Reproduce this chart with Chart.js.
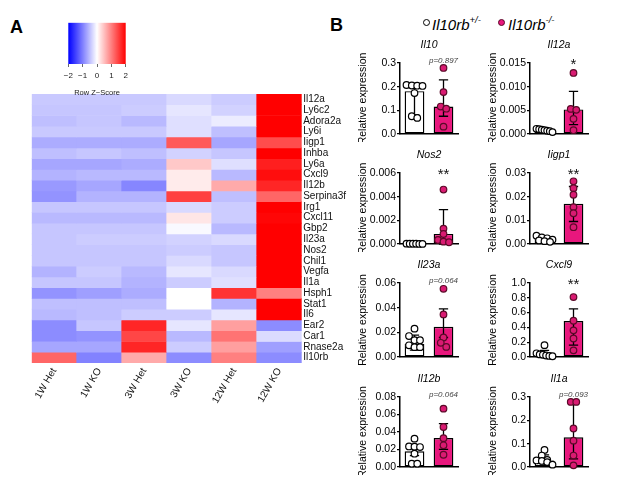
<!DOCTYPE html>
<html><head><meta charset="utf-8">
<script src="https://cdn.jsdelivr.net/npm/chart.js@4/dist/chart.umd.min.js"></script>
<style>
html,body{margin:0;padding:0;background:#fff;}
body{width:617px;height:485px;overflow:hidden;position:relative;font-family:"Liberation Sans",Arial,Helvetica,sans-serif;color:#000;}
canvas{position:absolute;}
.panel{position:absolute;font-weight:bold;font-size:18px;line-height:1;}
.leg{position:absolute;font-style:italic;font-size:15px;line-height:1;white-space:nowrap;}
.leg sup{font-size:9.5px;position:relative;top:-1px;}
.dot{position:absolute;width:5px;height:5px;border-radius:50%;border:1.7px solid #000;}
</style></head>
<body>
<div class="panel" style="left:10px;top:18px">A</div>
<div class="panel" style="left:330px;top:16px">B</div>
<div class="dot" style="left:423px;top:18.5px;background:#fff"></div>
<div class="leg" style="left:432px;top:16px">Il10rb<sup>+/-</sup></div>
<div class="dot" style="left:498px;top:18.5px;background:#e8177d;border-color:#5a0a28"></div>
<div class="leg" style="left:508px;top:16px">Il10rb<sup>-/-</sup></div>

<canvas id="heat" width="370" height="330" style="left:0px;top:80px"></canvas>
<canvas id="cbar" width="90" height="80" style="left:50px;top:17px"></canvas>
<canvas id="b0" width="116" height="103"></canvas>
<canvas id="b1" width="116" height="103"></canvas>
<canvas id="b2" width="116" height="103"></canvas>
<canvas id="b3" width="116" height="103"></canvas>
<canvas id="b4" width="116" height="106"></canvas>
<canvas id="b5" width="116" height="106"></canvas>
<canvas id="b6" width="116" height="102"></canvas>
<canvas id="b7" width="116" height="102"></canvas>

<script>
// ---------------- Panel A data (row Z-scores) ----------------
const conditions = ['1W Het','1W KO','3W Het','3W KO','12W Het','12W KO'];
const genes = ['Il12a','Ly6c2','Adora2a','Ly6i','Iigp1','Inhba','Ly6a','Cxcl9','Il12b','Serpina3f','Irg1','Cxcl11','Gbp2','Il23a','Nos2','Chil1','Vegfa','Il1a','Hsph1','Stat1','Il6','Ear2','Car1','Rnase2a','Il10rb'];
const z1WHet  = [-0.42,-0.45,-0.50,-0.42,-0.65,-0.50,-0.70,-0.60,-0.80,-0.85,-0.45,-0.55,-0.45,-0.45,-0.45,-0.45,-0.60,-0.45,-0.85,-0.50,-0.55,-0.90,-0.90,-0.70,1.20];
const z1WKO   = [-0.42,-0.45,-0.45,-0.42,-0.65,-0.45,-0.70,-0.55,-0.70,-0.60,-0.45,-0.55,-0.45,-0.40,-0.45,-0.45,-0.40,-0.45,-0.75,-0.50,-0.50,-0.45,-0.85,-0.70,-0.98];
const z3WHet  = [-0.42,-0.40,-0.55,-0.42,-0.65,-0.50,-0.65,-0.55,-0.95,-0.60,-0.45,-0.55,-0.45,-0.40,-0.45,-0.45,-0.55,-0.60,-0.65,-0.50,-0.40,1.70,1.45,1.70,0.67];
const z3WKO   = [-0.30,-0.20,-0.25,-0.25,1.30,-0.35,0.43,0.16,0.16,1.50,-0.30,0.20,-0.05,-0.35,-0.40,-0.30,-0.20,-0.40,0.00,0.00,-0.40,-0.20,-0.55,-0.40,-0.90];
const z12WHet = [-0.40,-0.35,-0.15,-0.50,-0.70,-0.45,-0.25,-0.55,0.67,-0.50,-0.40,-0.40,-0.55,-0.30,-0.45,-0.45,-0.30,-0.25,1.60,-0.60,-0.20,0.75,1.10,0.75,1.00];
const z12WKO  = [2.00,2.00,2.00,2.00,1.40,2.00,1.76,1.90,1.70,1.20,2.00,1.95,2.00,2.00,2.00,2.00,2.00,2.00,1.00,2.00,2.00,-0.90,-0.28,-0.75,-0.90];
const zColumns = [z1WHet, z1WKO, z3WHet, z3WKO, z12WHet, z12WKO];
const zTicks = [-2,-1,0,1,2];

// ---------------- Panel B data ----------------
const genesB   = ['Il10','Il12a','Nos2','Iigp1','Il23a','Cxcl9','Il12b','Il1a'];
const groupsB  = ['Il10rb+/-','Il10rb-/-'];
const hetMean  = [0.181, 0.0007, 0.00003, 0.0020, 0.0105, 0.040, 0.0179, 0.028];
const hetLow   = [0.082, 0.0004, 0.00001, 0.0010, 0.0055, 0.000, 0.0130, 0.014];
const hetHigh  = [0.200, 0.0010, 0.00005, 0.0030, 0.0177, 0.090, 0.0250, 0.052];
const koMean   = [0.116, 0.0052, 0.00085, 0.0170, 0.0245, 0.486, 0.0331, 0.127];
const koLow    = [0.075, 0.0020, 0.0000, 0.0095, 0.0158, 0.160, 0.0202, 0.035];
const koHigh   = [0.229, 0.0090, 0.0029, 0.0243, 0.0390, 0.650, 0.0495, 0.279];
const hetPoints = [
  [0.207,0.205,0.204,0.203,0.173,0.075,0.068],
  [0.0011,0.0010,0.0009,0.0008,0.0007,0.0006,0.0004],
  [0.00003,0.00002,0.00002,0.00002,0.00001,0.00001],
  [0.0035,0.0028,0.0024,0.0018,0.0015,0.0012,0.0009],
  [0.023,0.017,0.0136,0.0136,0.0095,0.008,0.008],
  [0.16,0.05,0.035,0.03,0.02,0.015,0.01],
  [0.0324,0.0235,0.0232,0.0228,0.0152,0.0038,0.0038],
  [0.073,0.049,0.030,0.028,0.026,0.021,0.010]
];
const koPoints = [
  [0.279,0.177,0.116,0.107,0.031],
  [0.0129,0.0053,0.0051,0.0032,0.0008],
  [0.0046,0.0013,0.00085,0.00034,0.0002,0.00015],
  [0.0265,0.0236,0.0208,0.0156,0.0130,0.0071],
  [0.0553,0.0345,0.0158,0.0115,0.0082],
  [0.81,0.49,0.36,0.25,0.09],
  [0.0667,0.0457,0.0330,0.0248,0.0140],
  [0.279,0.279,0.165,0.113,0.049,0.007]
];
const yTicksB = [
  [0,0.1,0.2,0.3],
  [0,0.005,0.010,0.015],
  [0,0.002,0.004,0.006],
  [0,0.01,0.02,0.03],
  [0,0.02,0.04,0.06],
  [0,0.2,0.4,0.6,0.8,1.0],
  [0,0.02,0.04,0.06,0.08],
  [0,0.1,0.2,0.3]
];
const tickDecimals = [1,3,3,2,2,1,2,1];
const significance = ['p=0.897','*','**','**','p=0.064','**','p=0.064','p=0.093'];

// ---------------- common ----------------
const FONT = '"Liberation Sans", Arial, Helvetica, sans-serif';
Chart.defaults.font.family = FONT;
Chart.defaults.color = '#000';
const PINK = '#e8177d';
const PINK_PT = '#d91b72';
const PINK_EDGE = '#5a0a28';

function zColor(z){
  z = Math.max(-2, Math.min(2, z));
  if (z < 0){ const t = (z + 2)/2; const v = Math.round(255*t); return `rgb(${v},${v},255)`; }
  const v = Math.round(255*(1 - z/2)); return `rgb(255,${v},${v})`;
}

// ---------------- Heatmap ----------------
new Chart(document.getElementById('heat'), {
  type: 'bar',
  data: {
    labels: conditions,
    datasets: genes.map((g, gi) => ({
      label: g,
      data: conditions.map(() => 1),
      backgroundColor: zColumns.map(col => zColor(col[gi])),
      borderWidth: 0,
      barPercentage: 1,
      categoryPercentage: 1
    }))
  },
  options: {
    responsive: false, animation: false, events: [],
    layout: { padding: { left: 31.7, top: 14, right: 0, bottom: 0 } },
    plugins: { legend: { display: false }, tooltip: { enabled: false } },
    scales: {
      x: {
        stacked: true,
        grid: { display: false, drawTicks: false, tickLength: 0 }, border: { display: false },
        ticks: { autoSkip: false, minRotation: 60, maxRotation: 60, font: { size: 10 }, color: '#111', padding: 3 },
        afterFit: s => { s.height = 47; }
      },
      y: {
        stacked: true, position: 'right', min: 0, max: genes.length, reverse: true,
        grid: { display: false, drawTicks: false, tickLength: 0 }, border: { display: false },
        afterBuildTicks: s => { s.ticks = genes.map((g, i) => ({ value: i + 0.5 })); },
        ticks: { autoSkip: false, font: { size: 10 }, color: '#111', padding: 1.5,
                 callback: (v, i) => genes[i] },
        afterFit: s => { s.width = 68.3; }
      }
    }
  }
});

// ---------------- Colour key ----------------
new Chart(document.getElementById('cbar'), {
  type: 'bar',
  data: {
    labels: [''],
    datasets: [{
      data: [[zTicks[0], zTicks[zTicks.length-1]]],
      borderWidth: 0, barPercentage: 1, categoryPercentage: 1,
      backgroundColor: (ctx) => {
        const ca = ctx.chart.chartArea;
        if (!ca) return 'transparent';
        const g = ctx.chart.ctx.createLinearGradient(ca.left, 0, ca.right, 0);
        g.addColorStop(0, zColor(-2)); g.addColorStop(0.5, zColor(0)); g.addColorStop(1, zColor(2));
        return g;
      }
    }]
  },
  options: {
    indexAxis: 'y', responsive: false, animation: false, events: [],
    layout: { padding: { left: 18.3, right: 14.3, top: 5.7, bottom: 0 } },
    plugins: { legend: { display: false }, tooltip: { enabled: false } },
    scales: {
      x: {
        min: zTicks[0], max: zTicks[zTicks.length-1],
        afterBuildTicks: s => { s.ticks = zTicks.map(v => ({ value: v })); },
        grid: { drawOnChartArea: false, drawTicks: true, tickLength: 3, color: '#444', lineWidth: 0.8 },
        border: { display: false },
        ticks: { font: { size: 8 }, color: '#222', padding: 4, maxRotation: 0, minRotation: 0, autoSkip: false,
                 callback: v => (v < 0 ? '\u2212' : '') + Math.abs(v) },
        title: { display: true, text: 'Row Z\u2212Score', font: { size: 7.5 }, color: '#222', padding: { top: 1, bottom: 0 } },
        afterFit: s => { s.height = 33; }
      },
      y: { display: false }
    }
  }
});

// ---------------- Bar panels ----------------
const rowTop = [63, 173, 283, 397];
const rowH   = [71, 71, 74, 70];
const colAxisX = [400, 530];
const Y_AXIS_W = 48, TITLE_H = 24, X_AXIS_H = 8;

// Prism-like arrangement: points at nearly the same height are laid out side by side, centred on the bar.
function swarm(vals, center, ymax, plotH){
  const slot = 29, rowTol = 4.5, maxSpan = 16;
  const idx = vals.map((v, k) => k).sort((a, b) => vals[b] - vals[a]);
  const clusters = [];
  idx.forEach(k => {
    const py = vals[k] / ymax * plotH;
    const last = clusters[clusters.length - 1];
    if (last && Math.abs(last.py - py) < rowTol) last.items.push(k);
    else clusters.push({ py, items: [k] });
  });
  const out = new Array(vals.length);
  clusters.forEach(c => {
    const n = c.items.length;
    const sp = n > 1 ? Math.min(5.5, maxSpan / (n - 1)) : 0;
    c.items.forEach((k, j) => {
      out[k] = { x: center + (j - (n - 1) / 2) * sp / slot, y: vals[k] };
    });
  });
  return out;
}
function errLine(c, lo, hi){
  const w = 0.16;
  return [{x:c,y:lo},{x:c,y:hi},{x:c,y:null},
          {x:c-w,y:hi},{x:c+w,y:hi},{x:c,y:null},
          {x:c-w,y:lo},{x:c+w,y:lo}];
}

genesB.forEach((gene, i) => {
  const row = Math.floor(i/2), col = i % 2;
  const cv = document.getElementById('b' + i);
  cv.style.left = (colAxisX[col] - Y_AXIS_W) + 'px';
  cv.style.top = (rowTop[row] - TITLE_H) + 'px';
  const ticks = yTicksB[i];
  const ymax = ticks[ticks.length-1];
  const sigPlugin = {
    id: 'sig' + i,
    afterDatasetsDraw(chart){
      const { ctx, chartArea, scales } = chart;
      const x = scales.x.getPixelForValue(1);
      const txt = significance[i];
      ctx.save();
      ctx.textAlign = 'center';
      if (txt.startsWith('p')){
        ctx.font = 'italic 8px ' + FONT;
        ctx.fillStyle = '#444';
        ctx.textBaseline = 'middle';
        ctx.fillText(txt, x, chartArea.top - 2);
      } else {
        ctx.font = '15px ' + FONT;
        ctx.fillStyle = '#111';
        ctx.textBaseline = 'alphabetic';
        ctx.fillText(txt, x, chartArea.top + 5.5);
      }
      ctx.restore();
    }
  };
  new Chart(cv, {
    data: {
      labels: groupsB,
      datasets: [
        { type: 'bar', data: [hetMean[i], koMean[i]], backgroundColor: ['#ffffff', PINK],
          borderColor: '#000', borderWidth: 1.4, borderSkipped: false, grouped: false,
          barPercentage: 0.68, categoryPercentage: 1, order: 3, xAxisID: 'x', yAxisID: 'y', clip: false },
        { type: 'line', data: errLine(0, hetLow[i], hetHigh[i]).concat([{x:0,y:null}], errLine(1, koLow[i], koHigh[i])),
          borderColor: '#000', borderWidth: 1.3, pointRadius: 0, spanGaps: false, fill: false,
          order: 2, xAxisID: 'xp', yAxisID: 'y', clip: false },
        { type: 'scatter', data: swarm(hetPoints[i], 0, ymax, rowH[row]),
          pointRadius: 3.3, pointBackgroundColor: '#fff', pointBorderColor: '#000', pointBorderWidth: 1.2,
          order: 1, xAxisID: 'xp', yAxisID: 'y', clip: false },
        { type: 'scatter', data: swarm(koPoints[i], 1, ymax, rowH[row]),
          pointRadius: 3.3, pointBackgroundColor: PINK_PT, pointBorderColor: PINK_EDGE, pointBorderWidth: 1.2,
          order: 0, xAxisID: 'xp', yAxisID: 'y', clip: false }
      ]
    },
    options: {
      responsive: false, animation: false, events: [],
      layout: { padding: { left: 0, right: 10, top: 0, bottom: 0 } },
      plugins: {
        legend: { display: false }, tooltip: { enabled: false },
        title: { display: true, text: gene, fullSize: false, color: '#000',
                 font: { size: 10.5, style: 'italic', weight: 'normal' }, padding: { top: 0, bottom: 11.4 } }
      },
      scales: {
        x: { type: 'category', offset: true, position: 'bottom', weight: 1, grid: { display: false, drawTicks: false },
             border: { display: true, color: '#000', width: 1.5 }, ticks: { display: false },
             afterFit: s => { s.height = X_AXIS_H; } },
        xp: { type: 'linear', position: 'bottom', weight: 0, min: -0.5, max: 1.5, display: true,
              grid: { display: false, drawTicks: false }, border: { display: false }, ticks: { display: false },
              afterFit: s => { s.height = 0; } },
        y: { type: 'linear', min: 0, max: ymax,
             afterBuildTicks: s => { s.ticks = ticks.map(v => ({ value: v })); },
             ticks: { font: { size: 10.5 }, color: '#000', padding: 1, autoSkip: false,
                      callback: v => Number(v).toFixed(tickDecimals[i]) },
             grid: { drawOnChartArea: false, drawTicks: true, tickLength: 3, color: '#000', lineWidth: 1.3 },
             border: { display: true, color: '#000', width: 1.5 },
             title: { display: true, text: 'Relative expression', color: '#000', font: { size: 10.5 },
                      padding: { top: 4.7, bottom: 2 } },
             afterFit: s => { s.width = Y_AXIS_W; } }
      }
    },
    plugins: [sigPlugin]
  });
});
</script>
</body></html>
